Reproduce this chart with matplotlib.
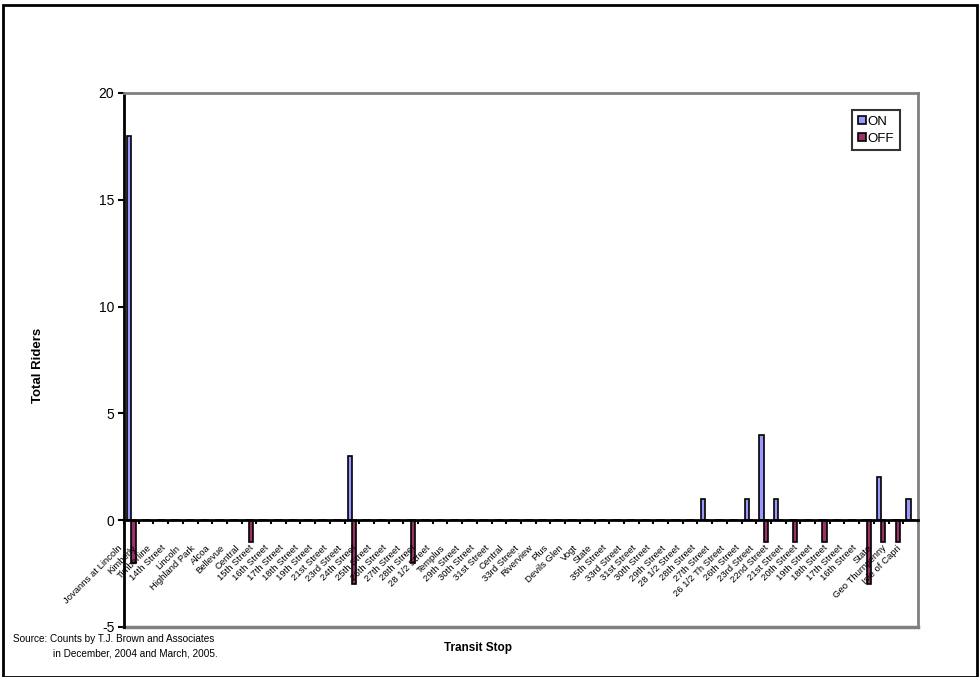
import numpy as np
import matplotlib
matplotlib.use("Agg")
from matplotlib import pyplot as plt
from matplotlib.transforms import ScaledTranslation
from matplotlib.patches import Rectangle

plt.rcParams['font.family'] = ['Liberation Sans', 'DejaVu Sans']
plt.rcParams['axes.unicode_minus'] = False

# stops along the route, in order
stops = ["Jovanns at Lincoln", "Kimberly", "Timberline", "14th Street", "Lincoln",
         "Highland Park", "Alcoa", "Bellevue", "Central", "15th Street",
         "16th Street", "17th Street", "18th Street", "19th Street", "21st Street",
         "23rd Street", "24th Street", "25th Street", "26th Street", "27th Street",
         "28th Street", "28 1/2 Street", "Templus", "29th Street", "30th Street",
         "31st Street", "Central", "33rd Street", "Riverview", "Plus",
         "Devils Glen", "Vogt", "State", "35th Street", "33rd Street",
         "31st Street", "30th Street", "29th Street", "28 1/2 Street", "28th Street",
         "27th Street", "26 1/2 Th Street", "26th Street", "23rd Street", "22nd Street",
         "21st Street", "20th Street", "19th Street", "18th Street", "17th Street",
         "16th Street", "State", "Geo Thurnpenny", "Isle of Capri"]

# riders getting on (positive) and off (shown as negative)
on_riders = [18, 0, 0, 0, 0, 0, 0, 0, 0, 0,
             0, 0, 0, 0, 0, 3, 0, 0, 0, 0,
             0, 0, 0, 0, 0, 0, 0, 0, 0, 0,
             0, 0, 0, 0, 0, 0, 0, 0, 0, 1,
             0, 0, 1, 4, 1, 0, 0, 0, 0, 0,
             0, 2, 0, 1]
off_riders = [-2, 0, 0, 0, 0, 0, 0, 0, -1, 0,
              0, 0, 0, 0, 0, -3, 0, 0, 0, -2,
              0, 0, 0, 0, 0, 0, 0, 0, 0, 0,
              0, 0, 0, 0, 0, 0, 0, 0, 0, 0,
              0, 0, 0, -1, 0, -1, 0, -1, 0, 0,
              -3, -1, -1, 0]

fig = plt.figure(figsize=(9.8, 6.77), dpi=100)
ax = fig.add_axes([124 / 980, 50 / 677, 794 / 980, 534 / 677])

x = np.arange(len(stops))
bw = 0.2857
ax.bar(x - bw / 2, on_riders, bw, color="#9999FF", edgecolor="black", linewidth=1.2, label="ON")
ax.bar(x + bw / 2, off_riders, bw, color="#993366", edgecolor="black", linewidth=1.2, label="OFF")

ax.set_xlim(-0.5, len(stops) - 0.5)
ax.set_ylim(-5, 20)
ax.set_yticks([-5, 0, 5, 10, 15, 20])
ax.tick_params(axis="y", direction="out", length=4, width=1.5, labelsize=10, pad=3)

# category axis sits at zero, gray frame around the plot area
ax.spines["bottom"].set_position(("data", 0))
ax.spines["bottom"].set_linewidth(2)
ax.spines["left"].set_linewidth(2)
for s in ["top", "right"]:
    ax.spines[s].set_color("#808080")
    ax.spines[s].set_linewidth(2)
ax.axhline(-5, color="#808080", lw=2.5, clip_on=False)

ax.set_xticks(np.arange(-0.5, len(stops), 1), minor=True)
ax.set_xticks(x, stops, rotation=45, ha="right", va="center", rotation_mode="anchor", fontsize=6.8)
ax.tick_params(axis="x", which="major", length=0, pad=19)
ax.tick_params(axis="x", which="minor", direction="out", length=3, width=1.5)
shift = ScaledTranslation(-0.11, 0, fig.dpi_scale_trans)
for lbl in ax.get_xticklabels():
    lbl.set_transform(lbl.get_transform() + shift)

leg = ax.legend(loc="upper left", bbox_to_anchor=(852 / 980, 1 - 110 / 677),
                bbox_transform=fig.transFigure, fontsize=9.5, frameon=True, fancybox=False,
                handlelength=0.6, handleheight=0.6, handletextpad=0.15, borderpad=0.45,
                labelspacing=0.35, borderaxespad=0)
leg.get_frame().set_edgecolor("black")
leg.get_frame().set_linewidth(1.5)

fig.text(38 / 980, 1 - 365 / 677, "Total Riders", rotation=90, fontsize=9.5, fontweight="bold",
         ha="center", va="center")
fig.text(478 / 980, 1 - 648 / 677, "Transit Stop", fontsize=8.5, fontweight="bold",
         ha="center", va="center")
fig.text(13 / 980, 1 - 639 / 677, "Source: Counts by T.J. Brown and Associates", fontsize=7.2,
         ha="left", va="center")
fig.text(53 / 980, 1 - 653 / 677, "in December, 2004 and March, 2005.", fontsize=7.2,
         ha="left", va="center")

# outer chart border
fig.add_artist(Rectangle((3 / 980, 0), 974 / 980, 1 - 5 / 677, transform=fig.transFigure,
                         fill=False, edgecolor="black", lw=2))

fig.savefig("out.png", dpi=100)
